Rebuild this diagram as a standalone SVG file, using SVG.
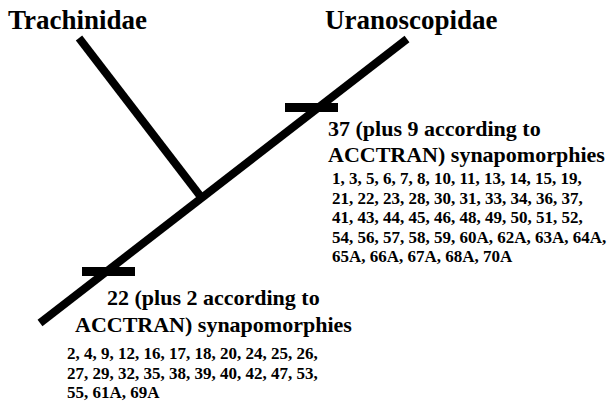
<svg xmlns="http://www.w3.org/2000/svg" width="607" height="405" viewBox="0 0 607 405">
<defs>
<marker id="unused" markerWidth="1" markerHeight="1"/>
</defs>
<rect width="607" height="405" fill="#fff"/>
<g id="connectors" stroke="#000" stroke-width="8" fill="none">
<line x1="40" y1="323" x2="407" y2="39"/>
<line x1="79" y1="38" x2="201" y2="197"/>
</g>
<g id="trachinidae" font-family="Liberation Serif" font-weight="bold" font-size="27"><text x="8" y="29">Trachinidae</text></g>
<g id="uranoscopidae" font-family="Liberation Serif" font-weight="bold" font-size="27"><text x="325" y="29">Uranoscopidae</text></g>
<g id="syn-upper" font-family="Liberation Serif" font-weight="bold">
<rect x="285" y="103" width="53" height="9" fill="#000"/>
<text x="328" y="136" font-size="22">37 (plus 9 according to</text>
<text x="328" y="162" font-size="22">ACCTRAN) synapomorphies</text>
<text x="332" y="184" font-size="17">1, 3, 5, 6, 7, 8, 10, 11, 13, 14, 15, 19,</text>
<text x="332" y="203.5" font-size="17">21, 22, 23, 28, 30, 31, 33, 34, 36, 37,</text>
<text x="332" y="223" font-size="17">41, 43, 44, 45, 46, 48, 49, 50, 51, 52,</text>
<text x="332" y="242.5" font-size="17">54, 56, 57, 58, 59, 60A, 62A, 63A, 64A,</text>
<text x="332" y="262" font-size="17">65A, 66A, 67A, 68A, 70A</text>
</g>
<g id="syn-lower" font-family="Liberation Serif" font-weight="bold">
<rect x="82" y="267" width="53" height="9" fill="#000"/>
<text x="107" y="305" font-size="22">22 (plus 2 according to</text>
<text x="75" y="332" font-size="22">ACCTRAN) synapomorphies</text>
<text x="67" y="359" font-size="17">2, 4, 9, 12, 16, 17, 18, 20, 24, 25, 26,</text>
<text x="67" y="378.5" font-size="17">27, 29, 32, 35, 38, 39, 40, 42, 47, 53,</text>
<text x="67" y="398" font-size="17">55, 61A, 69A</text>
</g>
</svg>
